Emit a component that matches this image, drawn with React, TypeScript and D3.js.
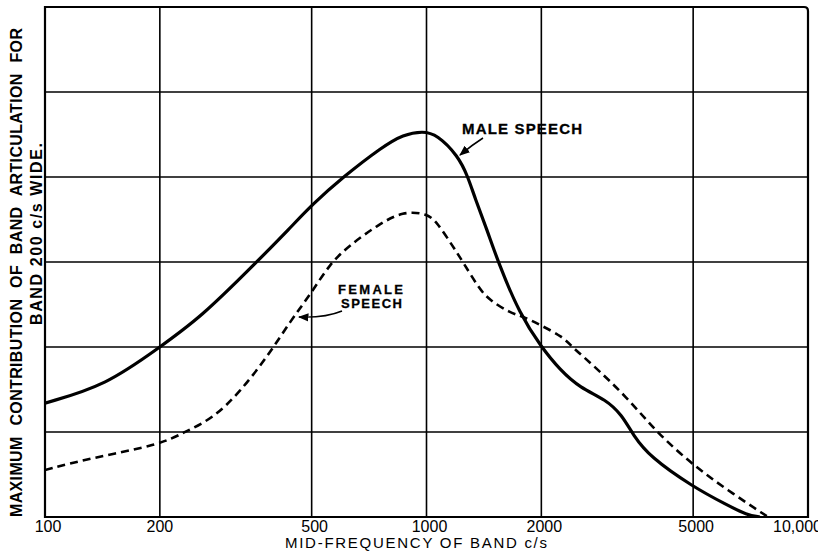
import React from "react";
import * as d3 from "d3";

const xTicks = [100, 200, 500, 1000, 2000, 5000, 10000];
const xTickLabels = ["100", "200", "500", "1000", "2000", "5000", "10,000"];
const gridValues = [0, 1, 2, 3, 4, 5, 6];

const maleFreq = [100, 145, 200, 255, 359, 439, 500, 604, 769, 868, 979, 1065, 1210, 1285, 1340, 1441, 1540, 1758, 2000, 2239, 2526, 2955, 3254, 3478, 3852, 5000, 6134, 6920, 7480];
const maleValue = [1.34, 1.55, 2.0, 2.34, 3.0, 3.4, 3.67, 4.0, 4.36, 4.5, 4.54, 4.5, 4.25, 4.0, 3.75, 3.38, 3.0, 2.38, 2.0, 1.73, 1.52, 1.38, 1.2, 0.965, 0.706, 0.353, 0.141, 0.024, 0.0];

const femaleFreq = [100, 131, 200, 230, 276, 324, 382, 439, 500, 558, 630, 742, 868, 1003, 1065, 1174, 1246, 1381, 1467, 1656, 1790, 1984, 2280, 2421, 2683, 3354, 4020, 5000, 6134, 7858];
const femaleValue = [0.553, 0.69, 0.85, 0.99, 1.16, 1.47, 1.88, 2.3, 2.64, 2.98, 3.2, 3.43, 3.6, 3.57, 3.47, 3.18, 3.0, 2.67, 2.55, 2.4, 2.36, 2.26, 2.12, 1.99, 1.82, 1.41, 0.99, 0.61, 0.32, 0.0];

const yTitle1 = "MAXIMUM  CONTRIBUTION  OF  BAND  ARTICULATION  FOR";
const yTitle2 = "BAND 200 c/s WIDE.";
const xTitle = "MID-FREQUENCY  OF  BAND  c/s";

export default function App() {
  const W = 818, H = 552;
  const left = 45, right = 808, top = 7, bottom = 517;
  const x = d3.scaleLog().domain([100, 10000]).range([left, right]);
  const y = d3.scaleLinear().domain([0, 6]).range([bottom, top]);

  const line = d3
    .line<[number, number]>()
    .x((d) => x(d[0]))
    .y((d) => y(d[1]))
    .curve(d3.curveBasis);

  const male = maleFreq.map((f, i) => [f, maleValue[i]] as [number, number]);
  const female = femaleFreq.map((f, i) => [f, femaleValue[i]] as [number, number]);

  const font = "'Liberation Sans', Arial, sans-serif";

  return (
    <svg width={W} height={H} style={{ position: "absolute", left: 0, top: 0, background: "#fff" }}>
      <defs>
        <marker id="arr" viewBox="0 0 10 10" refX="9" refY="5" markerWidth="7" markerHeight="7" orient="auto">
          <path d="M0,1 L10,5 L0,9 z" fill="#000" />
        </marker>
        <clipPath id="plot">
          <rect x={left} y={top} width={right - left} height={bottom - top} />
        </clipPath>
      </defs>
      <rect x={0} y={0} width={W} height={H} fill="#fff" />
      {gridValues.slice(1, -1).map((v) => (
        <line key={"h" + v} x1={left} x2={right} y1={y(v)} y2={y(v)} stroke="#000" strokeWidth={1.6} />
      ))}
      {xTicks.slice(1, -1).map((t) => (
        <line key={"v" + t} x1={x(t)} x2={x(t)} y1={top} y2={bottom} stroke="#000" strokeWidth={1.6} />
      ))}
      <path
        d={`M${left},${bottom} L${left},${top} L${right - 4},${top} Q${right},${top} ${right},${top + 4} L${right},${bottom} Z`}
        fill="none"
        stroke="#000"
        strokeWidth={2.2}
      />
      <g clipPath="url(#plot)">
        <path d={line(female) || ""} fill="none" stroke="#000" strokeWidth={2.6} strokeDasharray="8,5" />
        <path d={line(male) || ""} fill="none" stroke="#000" strokeWidth={3.2} />
      </g>
      {xTicks.map((t, i) => (
        <text
          key={"t" + t}
          x={i === xTicks.length - 1 ? 773 : x(t) + (i === 0 ? 3 : i >= 2 ? 3 : 0)}
          y={532}
          textAnchor={i === xTicks.length - 1 ? "start" : "middle"}
          fontFamily={font}
          fontSize={16}
          fill="#000"
        >
          {xTickLabels[i]}
        </text>
      ))}
      <text x={285} y={548} fontFamily={font} fontSize={15} textLength={262} lengthAdjust="spacing" fill="#000">
        {xTitle}
      </text>
      <text
        transform={`translate(22,517) rotate(-90)`}
        x={0}
        y={0}
        fontFamily={font}
        fontWeight="bold"
        fontSize={16}
        textLength={489}
        lengthAdjust="spacing"
        wordSpacing={6}
        fill="#000"
      >
        {yTitle1}
      </text>
      <text
        transform={`translate(42,325) rotate(-90)`}
        x={0}
        y={0}
        fontFamily={font}
        fontWeight="bold"
        fontSize={16}
        textLength={182}
        lengthAdjust="spacing"
        fill="#000"
      >
        {yTitle2}
      </text>
      <text x={462} y={134} fontFamily={font} fontSize={15} fontWeight={600} stroke="#000" strokeWidth={0.3} textLength={120} lengthAdjust="spacing" fill="#000">
        MALE SPEECH
      </text>
      <path d="M483,138 Q472,145 460,155" fill="none" stroke="#000" strokeWidth={1.5} markerEnd="url(#arr)" />
      <text x={338} y={294} fontFamily={font} fontSize={13} fontWeight={600} stroke="#000" strokeWidth={0.3} textLength={65} lengthAdjust="spacing" fill="#000">
        FEMALE
      </text>
      <text x={341} y={308} fontFamily={font} fontSize={13} fontWeight={600} stroke="#000" strokeWidth={0.3} textLength={61} lengthAdjust="spacing" fill="#000">
        SPEECH
      </text>
      <path d="M342,311 Q325,318 299,317" fill="none" stroke="#000" strokeWidth={1.5} markerEnd="url(#arr)" />
    </svg>
  );
}
